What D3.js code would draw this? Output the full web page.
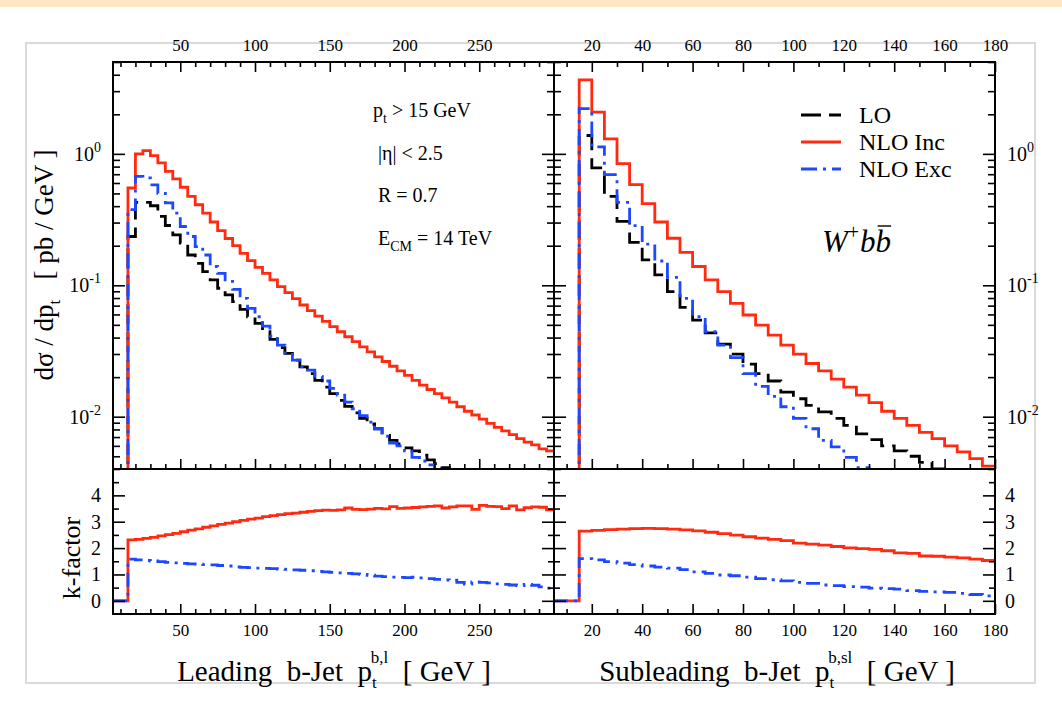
<!DOCTYPE html>
<html>
<head>
<meta charset="utf-8">
<script src="https://cdn.jsdelivr.net/npm/d3@7"></script>
<style>
  html, body { margin: 0; padding: 0; background: #fff; }
  svg text { font-family: "Liberation Serif", "Times New Roman", serif; white-space: pre; }
</style>
</head>
<body>
<svg id="chart" width="1062" height="718"></svg>
<script>
'use strict';

// bin lower edges (5 GeV bins)
const leadBins = [15,20,25,30,35,40,45,50,55,60,65,70,75,80,85,90,95,100,105,110,115,120,125,130,135,140,145,150,155,160,165,170,175,180,185,190,195,200,205,210,215,220,225,230,235,240,245,250,255,260,265,270,275,280,285,290,295];
const subBins = [15,20,25,30,35,40,45,50,55,60,65,70,75,80,85,90,95,100,105,110,115,120,125,130,135,140,145,150,155,160,165,170,175];
const binWidth = 5;

// leading b-jet, d sigma / d pt  [pb/GeV]
const leadLO = [0.235,0.428,0.428,0.403,0.334,0.285,0.242,0.209,0.170,0.147,0.127,0.110,0.0949,0.0844,0.0750,0.0656,0.0576,0.0513,0.0443,0.0387,0.0336,0.0303,0.0269,0.0239,0.0213,0.0189,0.0168,0.0150,0.0133,0.0120,0.0107,0.0097,0.0088,0.0081,0.0072,0.0066,0.0062,0.0058,0.0055,0.0051,0.0047,0.0044,0.0041,0.0038,0.0036,0.0034,0.0032,0.0030,0.0028,0.0026,0.0025,0.0023,0.0022,0.0021,0.0020,0.0019,0.0018];
const leadNLOInc = [0.550,1.00,1.06,0.971,0.854,0.737,0.645,0.557,0.475,0.410,0.354,0.303,0.261,0.227,0.200,0.175,0.154,0.137,0.123,0.110,0.0977,0.0879,0.0791,0.0708,0.0641,0.0583,0.0531,0.0484,0.0443,0.0406,0.0372,0.0340,0.0311,0.0285,0.0263,0.0242,0.0223,0.0206,0.0189,0.0174,0.0161,0.0150,0.0139,0.0129,0.0119,0.0110,0.0103,0.0096,0.0089,0.0083,0.0078,0.0073,0.0068,0.0064,0.0061,0.0057,0.0055];
const leadNLOExc = [0.376,0.675,0.656,0.580,0.500,0.423,0.354,0.280,0.235,0.197,0.170,0.139,0.123,0.107,0.0932,0.0796,0.0667,0.0576,0.0489,0.0410,0.0350,0.0306,0.0269,0.0239,0.0226,0.0203,0.0187,0.0164,0.0146,0.0129,0.0115,0.0102,0.0091,0.0081,0.0071,0.0063,0.0060,0.0055,0.0049,0.0046,0.0043,0.0039,0.0036,0.0033,0.0030,0.0028,0.0026,0.0023,0.0021,0.0020,0.0018,0.0017,0.0016,0.0015,0.0014,0.0013,0.0012];

// subleading b-jet
const subLO = [1.38,0.782,0.475,0.306,0.212,0.156,0.120,0.0895,0.0679,0.0544,0.0435,0.0357,0.0299,0.0251,0.0213,0.0187,0.0154,0.0137,0.0122,0.0109,0.0097,0.0086,0.0074,0.0067,0.0060,0.0055,0.0050,0.0045,0.0040,0.0036,0.0033,0.0030,0.0027];
const subNLOInc = [3.65,2.08,1.30,0.844,0.583,0.418,0.303,0.228,0.178,0.139,0.110,0.0895,0.0729,0.0594,0.0498,0.0418,0.0350,0.0299,0.0254,0.0223,0.0193,0.0168,0.0146,0.0128,0.0110,0.0097,0.0086,0.0076,0.0068,0.0060,0.0054,0.0048,0.0042];
const subNLOExc = [2.21,1.13,0.696,0.428,0.284,0.206,0.153,0.115,0.0796,0.0576,0.0443,0.0350,0.0282,0.0213,0.0170,0.0143,0.0119,0.0097,0.0081,0.0066,0.0059,0.0049,0.0041,0.0036,0.0031,0.0027,0.0024,0.0021,0.0019,0.0017,0.0015,0.0013,0.0011];

// k-factors (NLO / LO)
const leadKInc = [2.31,2.33,2.37,2.41,2.46,2.51,2.56,2.62,2.68,2.73,2.79,2.84,2.90,2.95,3.00,3.05,3.10,3.14,3.19,3.23,3.27,3.31,3.33,3.36,3.39,3.42,3.44,3.43,3.45,3.52,3.47,3.46,3.48,3.51,3.49,3.57,3.51,3.52,3.54,3.56,3.58,3.60,3.52,3.56,3.60,3.60,3.47,3.62,3.58,3.57,3.50,3.60,3.45,3.53,3.56,3.55,3.45];
const leadKExc = [1.58,1.55,1.53,1.51,1.49,1.46,1.44,1.42,1.40,1.39,1.37,1.36,1.34,1.32,1.29,1.27,1.26,1.24,1.23,1.22,1.20,1.19,1.17,1.16,1.14,1.12,1.10,1.08,1.06,1.04,1.02,1.00,0.97,0.94,0.92,0.90,0.89,0.88,0.90,0.87,0.84,0.81,0.79,0.78,0.70,0.63,0.72,0.70,0.68,0.64,0.62,0.60,0.58,0.62,0.59,0.53,0.48];
const subKInc = [2.64,2.67,2.70,2.72,2.74,2.75,2.74,2.72,2.69,2.65,2.60,2.55,2.49,2.43,2.38,2.33,2.28,2.19,2.15,2.11,2.06,2.01,1.98,1.95,1.90,1.82,1.80,1.70,1.69,1.66,1.63,1.58,1.53];
const subKExc = [1.60,1.55,1.49,1.43,1.37,1.32,1.28,1.24,1.18,1.10,1.04,0.98,0.95,0.90,0.84,0.80,0.76,0.70,0.66,0.60,0.58,0.54,0.52,0.48,0.46,0.44,0.39,0.36,0.34,0.32,0.28,0.24,0.19];

// ticks
const leadMajor = [50,100,150,200,250];
const leadMinor = [10,20,30,40,60,70,80,90,110,120,130,140,160,170,180,190,210,220,230,240,260,270,280,290];
const subMajor = [20,40,60,80,100,120,140,160,180];
const subMinor = [10,30,50,70,90,110,130,150,170];
const logMajor = [0.01,0.1,1];
const logMinor = [0.004,0.005,0.006,0.007,0.008,0.009,0.02,0.03,0.04,0.05,0.06,0.07,0.08,0.09,0.2,0.3,0.4,0.5,0.6,0.7,0.8,0.9,2,3,4,5];
const kMajor = [0,1,2,3,4];
const kMinor = [0.5,1.5,2.5,3.5,4.5];

const FONT = '"Liberation Serif", "Times New Roman", serif';
const RED = '#ff2a10', BLUE = '#1c48ff', BLACK = '#000';

const svg = d3.select('#chart');

// page decoration
svg.append('rect').attr('x', 0).attr('y', 0).attr('width', 1062).attr('height', 7).attr('fill', '#fde6c4');
svg.append('rect').attr('x', 26).attr('y', 43).attr('width', 1009).attr('height', 640)
    .attr('fill', '#fff').attr('stroke', '#dadada').attr('stroke-width', 2);

// frame geometry
const L = 113, M = 554, R = 995, T = 62, S = 469, B = 614;

const xLead = d3.scaleLinear().domain([5, 300]).range([L, M]);
const xSub = d3.scaleLinear().domain([5, 180]).range([M, R]);
const ySig = d3.scaleLog().domain([0.004, 5]).range([S, T]);
const yK = d3.scaleLinear().domain([-0.5, 5]).range([B, S]);

const defs = svg.append('defs');
function clip(id, x0, y0, x1, y1) {
    defs.append('clipPath').attr('id', id).append('rect')
        .attr('x', x0).attr('y', y0).attr('width', x1 - x0).attr('height', y1 - y0);
    return 'url(#' + id + ')';
}

function stepLine(x, y, bins, vals, start, startVal) {
    let pts = [[start, startVal]];
    bins.forEach(function (b, i) { pts.push([b, vals[i]]); });
    pts.push([bins[bins.length - 1] + binWidth, vals[vals.length - 1]]);
    return d3.line()
        .x(function (d) { return x(d[0]); })
        .y(function (d) { return y(d[1]); })
        .curve(d3.curveStepAfter)(pts);
}

const styles = {
    LO: { stroke: BLACK, dash: '20,8' },
    Inc: { stroke: RED, dash: null },
    Exc: { stroke: BLUE, dash: '16,6,3,6' }
};

function drawSeries(g, d, st) {
    g.append('path').attr('d', d)
        .attr('fill', 'none')
        .attr('stroke', st.stroke)
        .attr('stroke-width', 2.8)
        .attr('stroke-dasharray', st.dash);
}

// upper panels
let gTL = svg.append('g').attr('clip-path', clip('cTL', L, T, M, S));
drawSeries(gTL, stepLine(xLead, ySig, leadBins, leadLO, 15, 0.001), styles.LO);
drawSeries(gTL, stepLine(xLead, ySig, leadBins, leadNLOInc, 15, 0.001), styles.Inc);
drawSeries(gTL, stepLine(xLead, ySig, leadBins, leadNLOExc, 15, 0.001), styles.Exc);

let gTR = svg.append('g').attr('clip-path', clip('cTR', M, T, R, S));
drawSeries(gTR, stepLine(xSub, ySig, subBins, subLO, 15, 0.001), styles.LO);
drawSeries(gTR, stepLine(xSub, ySig, subBins, subNLOInc, 15, 0.001), styles.Inc);
drawSeries(gTR, stepLine(xSub, ySig, subBins, subNLOExc, 15, 0.001), styles.Exc);

// lower panels
let gBL = svg.append('g').attr('clip-path', clip('cBL', L, S, M, B));
drawSeries(gBL, stepLine(xLead, yK, leadBins, leadKInc, 5, 0), styles.Inc);
drawSeries(gBL, stepLine(xLead, yK, leadBins, leadKExc, 5, 0), { stroke: BLUE, dash: '14,6,3,6' });

let gBR = svg.append('g').attr('clip-path', clip('cBR', M, S, R, B));
drawSeries(gBR, stepLine(xSub, yK, subBins, subKInc, 5, 0), styles.Inc);
drawSeries(gBR, stepLine(xSub, yK, subBins, subKExc, 5, 0), { stroke: BLUE, dash: '14,6,3,6' });

// axes
function axisAt(axis, tx, ty, labels, fontSize) {
    let g = svg.append('g').attr('transform', 'translate(' + tx + ',' + ty + ')');
    axis.tickFormat(labels ? d3.format('d') : '');
    g.call(axis);
    g.select('.domain').remove();
    g.attr('font-family', FONT).attr('font-size', fontSize || 17);
    g.selectAll('.tick line').attr('stroke', '#000').attr('stroke-width', 1.6);
    g.selectAll('.tick text').attr('fill', '#000');
    return g;
}

function powLabels(g) {
    g.selectAll('.tick text').each(function (d) {
        let t = d3.select(this);
        t.text(null);
        t.append('tspan').text('10');
        t.append('tspan').attr('dy', -9).attr('font-size', 14).text(String(Math.round(Math.log10(d))));
    });
}

// x axes, leading panel
axisAt(d3.axisTop(xLead).tickValues(leadMajor).tickSize(-10).tickPadding(11), 0, T, true);
axisAt(d3.axisTop(xLead).tickValues(leadMinor).tickSize(-5), 0, T, false);
axisAt(d3.axisBottom(xLead).tickValues(leadMajor).tickSize(-10), 0, S, false);
axisAt(d3.axisBottom(xLead).tickValues(leadMinor).tickSize(-5), 0, S, false);
axisAt(d3.axisBottom(xLead).tickValues(leadMajor).tickSize(-10).tickPadding(10), 0, B, true);
axisAt(d3.axisBottom(xLead).tickValues(leadMinor).tickSize(-5), 0, B, false);

// x axes, subleading panel
axisAt(d3.axisTop(xSub).tickValues(subMajor).tickSize(-10).tickPadding(11), 0, T, true);
axisAt(d3.axisTop(xSub).tickValues(subMinor).tickSize(-5), 0, T, false);
axisAt(d3.axisBottom(xSub).tickValues(subMajor).tickSize(-10), 0, S, false);
axisAt(d3.axisBottom(xSub).tickValues(subMinor).tickSize(-5), 0, S, false);
axisAt(d3.axisBottom(xSub).tickValues(subMajor).tickSize(-10).tickPadding(10), 0, B, true);
axisAt(d3.axisBottom(xSub).tickValues(subMinor).tickSize(-5), 0, B, false);

// log y axes
powLabels(axisAt(d3.axisLeft(ySig).tickValues(logMajor).tickSize(-12).tickPadding(12), L, 0, true, 20));
axisAt(d3.axisLeft(ySig).tickValues(logMinor).tickSize(-7), L, 0, false);
axisAt(d3.axisRight(ySig).tickValues(logMajor).tickSize(-12), M, 0, false);
axisAt(d3.axisRight(ySig).tickValues(logMinor).tickSize(-7), M, 0, false);
axisAt(d3.axisLeft(ySig).tickValues(logMajor).tickSize(-12), M, 0, false);
axisAt(d3.axisLeft(ySig).tickValues(logMinor).tickSize(-7), M, 0, false);
powLabels(axisAt(d3.axisRight(ySig).tickValues(logMajor).tickSize(-12).tickPadding(12), R, 0, true, 20));
axisAt(d3.axisRight(ySig).tickValues(logMinor).tickSize(-7), R, 0, false);

// k-factor y axes
axisAt(d3.axisLeft(yK).tickValues(kMajor).tickSize(-12).tickPadding(12), L, 0, true, 20);
axisAt(d3.axisLeft(yK).tickValues(kMinor).tickSize(-6), L, 0, false);
axisAt(d3.axisRight(yK).tickValues(kMajor).tickSize(-12), M, 0, false);
axisAt(d3.axisRight(yK).tickValues(kMinor).tickSize(-6), M, 0, false);
axisAt(d3.axisLeft(yK).tickValues(kMajor).tickSize(-12), M, 0, false);
axisAt(d3.axisLeft(yK).tickValues(kMinor).tickSize(-6), M, 0, false);
axisAt(d3.axisRight(yK).tickValues(kMajor).tickSize(-12).tickPadding(10), R, 0, true, 20);
axisAt(d3.axisRight(yK).tickValues(kMinor).tickSize(-6), R, 0, false);

// frames
[[L, T, M, S], [M, T, R, S], [L, S, M, B], [M, S, R, B]].forEach(function (f) {
    svg.append('rect').attr('x', f[0]).attr('y', f[1])
        .attr('width', f[2] - f[0]).attr('height', f[3] - f[1])
        .attr('fill', 'none').attr('stroke', '#000').attr('stroke-width', 2);
});

// cuts annotation
let a1 = svg.append('text').attr('x', 373).attr('y', 117).attr('font-size', 20);
a1.append('tspan').text('p');
a1.append('tspan').attr('font-size', 14).attr('dy', 6).text('t');
a1.append('tspan').attr('dy', -6).text(' > 15 GeV');
svg.append('text').attr('x', 378).attr('y', 160).attr('font-size', 20).text('|η| < 2.5');
svg.append('text').attr('x', 378).attr('y', 202).attr('font-size', 20).text('R = 0.7');
let a4 = svg.append('text').attr('x', 378).attr('y', 245).attr('font-size', 20);
a4.append('tspan').text('E');
a4.append('tspan').attr('font-size', 14).attr('dy', 6).text('CM');
a4.append('tspan').attr('dy', -6).text(' = 14 TeV');

// legend
const legendItems = [
    { label: 'LO', st: styles.LO, y: 115 },
    { label: 'NLO Inc', st: styles.Inc, y: 142 },
    { label: 'NLO Exc', st: styles.Exc, y: 169 }
];
legendItems.forEach(function (d) {
    svg.append('line').attr('x1', 801).attr('x2', 841).attr('y1', d.y).attr('y2', d.y)
        .attr('stroke', d.st.stroke).attr('stroke-width', 2.8).attr('stroke-dasharray', d.st.dash);
    svg.append('text').attr('x', 859).attr('y', d.y + 8).attr('font-size', 24).text(d.label);
});

// process label W+ b bbar
let w = svg.append('text').attr('x', 822).attr('y', 252).attr('font-size', 31).attr('font-style', 'italic');
w.append('tspan').text('W');
w.append('tspan').attr('font-size', 20).attr('font-style', 'normal').attr('dy', -13).text('+');
w.append('tspan').attr('dy', 13).attr('dx', 1).text('b');
w.append('tspan').text('b');
let wn = w.node();
let n = wn.getNumberOfChars();
let ext = wn.getExtentOfChar(n - 1);
svg.append('line').attr('x1', ext.x + 2).attr('x2', ext.x + ext.width)
    .attr('y1', ext.y + 2).attr('y2', ext.y + 2).attr('stroke', '#000').attr('stroke-width', 1.4);

// axis titles
let yt = svg.append('text').attr('transform', 'translate(53,265) rotate(-90)')
    .attr('text-anchor', 'middle').attr('font-size', 27);
yt.append('tspan').text('dσ / dp');
yt.append('tspan').attr('font-size', 17).attr('dy', 7).text('t');
yt.append('tspan').attr('dy', -7).text('   [ pb / GeV ]');

svg.append('text').attr('transform', 'translate(80,558) rotate(-90)')
    .attr('text-anchor', 'middle').attr('font-size', 26).text('k-factor');

function jetTitle(cx, lead, sup) {
    let t = svg.append('text').attr('x', cx).attr('y', 681).attr('text-anchor', 'middle').attr('font-size', 29);
    t.append('tspan').text(lead + '  b-Jet  p');
    t.append('tspan').attr('font-size', 17).attr('dy', 7).text('t');
    t.append('tspan').attr('font-size', 17).attr('dx', -6).attr('dy', -25).text(sup);
    t.append('tspan').attr('dy', 18).text('  [ GeV ]');
}
jetTitle(334, 'Leading', 'b,l');
jetTitle(777, 'Subleading', 'b,sl');
</script>
</body>
</html>
